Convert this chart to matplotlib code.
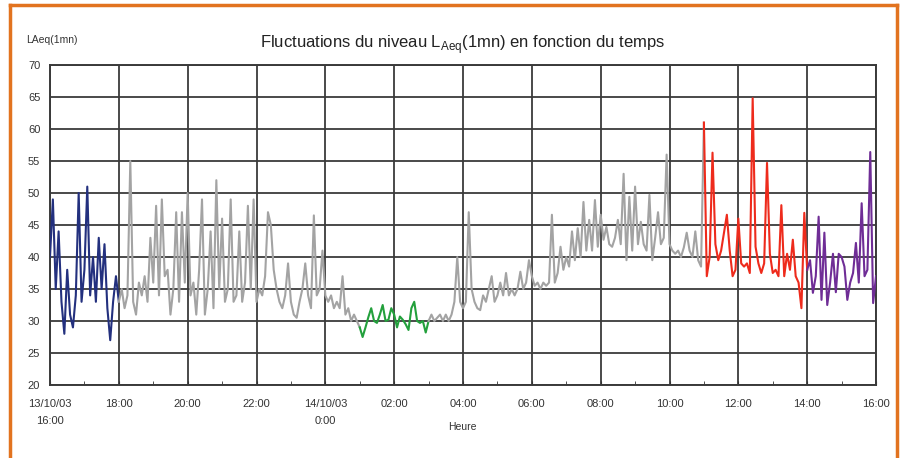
import numpy as np
import matplotlib
matplotlib.use("Agg")
import matplotlib.pyplot as plt
from matplotlib.lines import Line2D
from matplotlib.ticker import MultipleLocator

plt.rcParams['font.family'] = ['Liberation Sans', 'DejaVu Sans']

# ---------------- data (LAeq 1 min, read every 5 min) ----------------
step_min = 5
x_tick_labels = ["13/10/03\n16:00", "18:00", "20:00", "22:00", "14/10/03\n0:00",
                 "02:00", "04:00", "06:00", "08:00", "10:00", "12:00", "14:00", "16:00"]
y_ticks = [20, 25, 30, 35, 40, 45, 50, 55, 60, 65, 70]

# 16:00 - 18:00
blue_evening = [40, 49, 35, 44, 33, 28, 38, 31, 29, 34, 50, 33,
                38, 51, 34, 40, 33, 43, 35, 42, 32, 27, 33, 37]
# 18:00 - 01:00
grey_evening = [33, 35, 32, 34, 55, 33, 31, 36, 34, 37, 33, 43,
                36, 48, 34, 49, 37, 38, 31, 35, 47, 33, 47, 36,
                50, 34, 36, 31, 38, 49, 31, 35, 44, 32, 52, 35,
                46, 33, 35, 49, 33, 34, 44, 33, 36, 48, 35, 49,
                33, 35, 34, 37, 47, 45, 38, 35, 33, 32, 34, 39,
                33, 31, 30.5, 33, 35, 39, 34, 32, 46.5, 34, 35, 41,
                34, 33, 34, 32, 33, 32, 37, 31, 32, 30, 31, 30]
# 01:00 - 03:00
green_night = [29, 27.5, 29, 30.6, 32, 30, 29.7, 31, 32.5, 30, 30.2, 32,
               31, 29, 30.7, 30.2, 29.5, 28.6, 32, 33, 30, 29.7, 30, 28.2]
# 03:00 - 11:00
grey_day = [30, 31, 30, 30.5, 31, 30, 31, 30, 31, 33, 40, 33,
            32, 33, 47, 35, 33, 32, 31.7, 34, 33, 35, 37, 33,
            34, 36, 34, 37.5, 34, 35, 34, 35, 37.7, 35, 36, 39.5,
            37, 35.5, 36, 35, 36, 35.5, 36, 46.6, 36, 37.5, 41.6, 38,
            40, 38.5, 44, 39.5, 44.5, 40, 48.6, 41, 45.8, 41, 48.9, 41.6,
            46.6, 42.7, 44.7, 42, 41.6, 43, 45.8, 42, 53, 39.5, 49.4, 41,
            51, 42, 45.5, 42, 41, 49.7, 39.5, 43, 47, 42, 43, 56,
            42, 41, 40.5, 41, 40, 41.5, 43.8, 41, 40, 44, 39.5, 38.5]
# 11:00 - 14:00
red_midday = [61, 37, 40, 56.3, 42, 39.5, 41, 43.8, 46.6, 41, 37, 38,
              46, 39, 38.5, 39, 37.5, 64.8, 41.6, 39, 37.5, 39, 54.7, 40.5,
              37.5, 38, 37, 48.1, 37, 40.5, 38, 42.7, 37, 36, 32, 46.9]
# 14:00 - 16:00
purple_afternoon = [38, 39.5, 34.4, 37, 46.3, 33.3, 43.8, 32.5, 36, 40.5, 34.5, 40.5,
                    40, 38.5, 33.3, 36, 37.5, 42.2, 36, 48.4, 37, 38, 56.4, 32.8, 37]

segments = [(blue_evening, "#23307e"), (grey_evening, "#a3a3a3"),
            (green_night, "#23a03c"), (grey_day, "#a3a3a3"),
            (red_midday, "#ee2b1c"), (purple_afternoon, "#6f2d96")]

# ---------------- figure ----------------
W, H = 907, 458
fig = plt.figure(figsize=(W / 100, H / 100), dpi=100)
fig.patch.set_facecolor("white")
ax = fig.add_axes([50 / W, 1 - 385 / H, (876 - 50) / W, (385 - 65) / H])

all_vals = np.concatenate([np.asarray(s, float) for s, _ in segments])
hours = np.arange(len(all_vals)) * step_min / 60.0
start = 0
for vals, col in segments:
    n = len(vals)
    end = min(start + n + 1, len(all_vals))
    ax.plot(hours[start:end], all_vals[start:end], color=col, lw=1.5, zorder=3,
            solid_joinstyle="round")
    start += n

ax.set_xlim(0, 24)
ax.set_ylim(20, 70)
ax.set_xticks(np.arange(0, 25, 2))
ax.set_xticklabels(x_tick_labels, fontsize=8, color="#333333", linespacing=1.85)
ax.xaxis.set_minor_locator(MultipleLocator(1))
ax.set_yticks(y_ticks)
ax.set_yticklabels([str(v) for v in y_ticks], fontsize=8, color="#333333")
ax.tick_params(axis="y", length=0, pad=7)
ax.tick_params(axis="x", which="major", direction="in", length=3, pad=10, color="#333333")
ax.tick_params(axis="x", which="minor", direction="in", length=3, color="#333333")
ax.grid(True, which="major", color="#3a3a3a", lw=1.3, zorder=1)
for sp in ax.spines.values():
    sp.set_color("#3a3a3a")
    sp.set_linewidth(1.4)

fig.text(463 / W, 1 - 45 / H,
         r"Fluctuations du niveau L$_{\mathregular{Aeq}}$(1mn) en fonction du temps",
         ha="center", va="center", fontsize=12, color="#222222")
fig.text(26 / W, 1 - 40 / H, "LAeq(1mn)", ha="left", va="center", fontsize=7.5,
         color="#333333")
fig.text(462 / W, 1 - 427 / H, "Heure", ha="center", va="center", fontsize=7.5,
         color="#333333")

# orange frame
oc = "#e2731f"
fig.add_artist(Line2D([10 / W, 897 / W], [1 - 5 / H, 1 - 5 / H], transform=fig.transFigure,
                      color=oc, lw=2.5))
fig.add_artist(Line2D([10 / W, 10 / W], [0, 1 - 5 / H], transform=fig.transFigure,
                      color=oc, lw=2.5))
fig.add_artist(Line2D([897 / W, 897 / W], [0, 1 - 5 / H], transform=fig.transFigure,
                      color=oc, lw=2.5))

fig.savefig("out.png", dpi=100)
